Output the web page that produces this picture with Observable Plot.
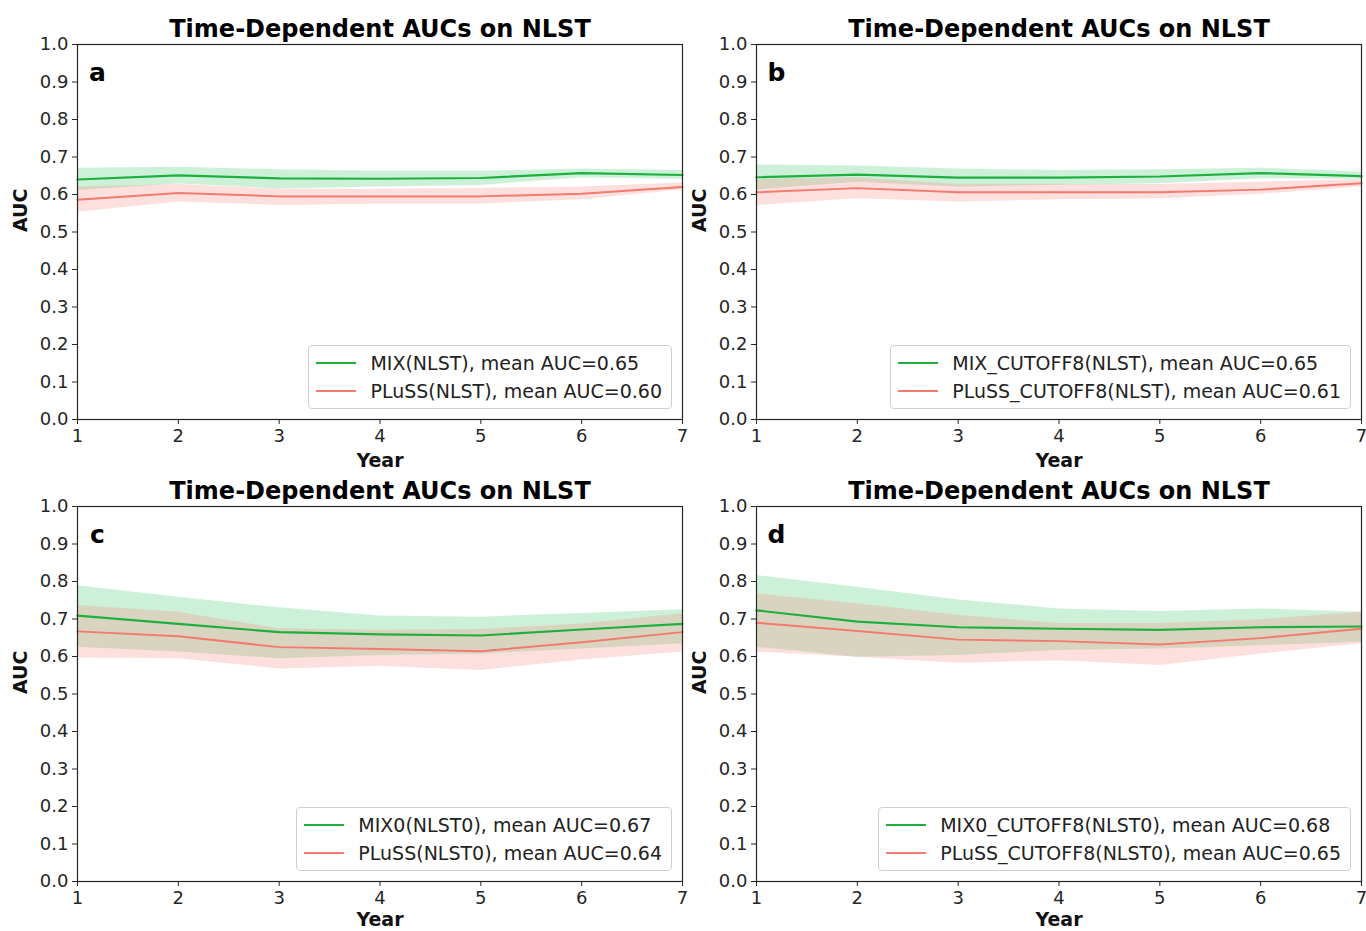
<!DOCTYPE html>
<html>
<head>
<meta charset="utf-8">
<script src="https://cdn.jsdelivr.net/npm/d3@7"></script>
<script src="https://cdn.jsdelivr.net/npm/@observablehq/plot@0.6"></script>
<style>
  html, body { margin: 0; padding: 0; background: #fff; }
  #root { position: relative; width: 1366px; height: 931px; overflow: hidden; font-family: "DejaVu Sans", sans-serif; }
  .panel { position: absolute; }
  .panel svg { overflow: visible; }
  .legend { position: absolute; border: 1px solid #d0d0d0; border-radius: 4px; background: rgba(255,255,255,0.85);
            padding: 3px 9px 3px 7px; font-family: "DejaVu Sans", sans-serif; font-size: 19px; color: #222; }
  .legend .row { display: flex; align-items: center; height: 28px; white-space: nowrap; }
  .legend .sw { width: 40px; height: 2px; margin-right: 14px; }
</style>
</head>
<body>
<div id="root"></div>
<script>
// ---------------- data ----------------
const years = [1, 2, 3, 4, 5, 6, 7];
const yTicks = [0, 0.1, 0.2, 0.3, 0.4, 0.5, 0.6, 0.7, 0.8, 0.9, 1.0];
const titleText = "Time-Dependent AUCs on NLST";

// panel a
const aMix      = [0.640, 0.651, 0.643, 0.642, 0.644, 0.657, 0.652];
const aMixLo    = [0.611, 0.628, 0.615, 0.620, 0.624, 0.645, 0.641];
const aMixHi    = [0.670, 0.673, 0.666, 0.662, 0.662, 0.668, 0.664];
const aPluss    = [0.586, 0.604, 0.595, 0.595, 0.595, 0.602, 0.620];
const aPlussLo  = [0.553, 0.580, 0.571, 0.575, 0.575, 0.586, 0.613];
const aPlussHi  = [0.620, 0.627, 0.614, 0.614, 0.616, 0.620, 0.631];
// panel b
const bMix      = [0.646, 0.653, 0.645, 0.645, 0.648, 0.657, 0.649];
const bMixLo    = [0.612, 0.633, 0.620, 0.625, 0.629, 0.642, 0.640];
const bMixHi    = [0.679, 0.676, 0.668, 0.664, 0.666, 0.670, 0.660];
const bPluss    = [0.606, 0.617, 0.606, 0.606, 0.606, 0.613, 0.630];
const bPlussLo  = [0.571, 0.589, 0.580, 0.586, 0.589, 0.601, 0.620];
const bPlussHi  = [0.640, 0.645, 0.627, 0.627, 0.627, 0.633, 0.640];
// panel c
const cMix      = [0.709, 0.687, 0.665, 0.659, 0.656, 0.672, 0.687];
const cMixLo    = [0.625, 0.612, 0.594, 0.603, 0.607, 0.620, 0.634];
const cMixHi    = [0.789, 0.758, 0.730, 0.708, 0.705, 0.715, 0.725];
const cPluss    = [0.667, 0.654, 0.625, 0.620, 0.614, 0.638, 0.665];
const cPlussLo  = [0.596, 0.594, 0.567, 0.574, 0.563, 0.591, 0.612];
const cPlussHi  = [0.736, 0.718, 0.674, 0.670, 0.672, 0.687, 0.714];
// panel d
const dMix      = [0.723, 0.693, 0.678, 0.674, 0.671, 0.678, 0.680];
const dMixLo    = [0.625, 0.598, 0.603, 0.616, 0.620, 0.629, 0.638];
const dMixHi    = [0.816, 0.785, 0.751, 0.727, 0.720, 0.727, 0.718];
const dPluss    = [0.690, 0.668, 0.645, 0.641, 0.632, 0.649, 0.674];
const dPlussLo  = [0.612, 0.598, 0.582, 0.589, 0.576, 0.607, 0.634];
const dPlussHi  = [0.767, 0.741, 0.710, 0.688, 0.688, 0.698, 0.718];

const labelsA = ["MIX(NLST), mean AUC=0.65", "PLuSS(NLST), mean AUC=0.60"];
const labelsB = ["MIX_CUTOFF8(NLST), mean AUC=0.65", "PLuSS_CUTOFF8(NLST), mean AUC=0.61"];
const labelsC = ["MIX0(NLST0), mean AUC=0.67", "PLuSS(NLST0), mean AUC=0.64"];
const labelsD = ["MIX0_CUTOFF8(NLST0), mean AUC=0.68", "PLuSS_CUTOFF8(NLST0), mean AUC=0.65"];
const panelLetters = ["a", "b", "c", "d"];

// ---------------- styling ----------------
const GREEN = "#1db03e";
const RED = "#f47a6e";
const GREEN_FILL = "#2cc45a";
const RED_FILL = "#f8837a";
const AXIS = "#262626";

const panels = [
  {letter: panelLetters[0], mix: aMix, mixLo: aMixLo, mixHi: aMixHi, pl: aPluss, plLo: aPlussLo, plHi: aPlussHi, labels: labelsA,
   left: 0, top: 0, width: 686, height: 470, mL: 77, mR: 4, mT: 44, mB: 51, yearDy: 47},
  {letter: panelLetters[1], mix: bMix, mixLo: bMixLo, mixHi: bMixHi, pl: bPluss, plLo: bPlussLo, plHi: bPlussHi, labels: labelsB,
   left: 686, top: 0, width: 680, height: 470, mL: 70, mR: 5, mT: 44, mB: 51, yearDy: 47},
  {letter: panelLetters[2], mix: cMix, mixLo: cMixLo, mixHi: cMixHi, pl: cPluss, plLo: cPlussLo, plHi: cPlussHi, labels: labelsC,
   left: 0, top: 470, width: 686, height: 461, mL: 77, mR: 4, mT: 36, mB: 50, yearDy: 44},
  {letter: panelLetters[3], mix: dMix, mixLo: dMixLo, mixHi: dMixHi, pl: dPluss, plLo: dPlussLo, plHi: dPlussHi, labels: labelsD,
   left: 686, top: 470, width: 680, height: 461, mL: 70, mR: 5, mT: 36, mB: 50, yearDy: 44}
];

const root = document.getElementById("root");

for (const p of panels) {
  const rows = years.map((yr, i) => ({
    year: yr, mix: p.mix[i], mixLo: p.mixLo[i], mixHi: p.mixHi[i],
    pl: p.pl[i], plLo: p.plLo[i], plHi: p.plHi[i]
  }));

  const chart = Plot.plot({
    width: p.width,
    height: p.height,
    marginLeft: p.mL,
    marginRight: p.mR,
    marginTop: p.mT,
    marginBottom: p.mB,
    style: {fontFamily: "DejaVu Sans", fontSize: "18px", color: AXIS, background: "transparent", overflow: "visible"},
    x: {domain: [1, 7]},
    y: {domain: [0, 1]},
    marks: [
      Plot.areaY(rows, {x: "year", y1: "mixLo", y2: "mixHi", fill: GREEN_FILL, fillOpacity: 0.24}),
      Plot.areaY(rows, {x: "year", y1: "plLo", y2: "plHi", fill: RED_FILL, fillOpacity: 0.26}),
      Plot.lineY(rows, {x: "year", y: "mix", stroke: GREEN, strokeWidth: 2.2}),
      Plot.lineY(rows, {x: "year", y: "pl", stroke: RED, strokeWidth: 2}),
      Plot.frame({stroke: AXIS, strokeWidth: 1.2}),
      Plot.axisX({ticks: years, tickFormat: d => String(d), tickSize: 5, tickPadding: 5, label: null, fontSize: 18, stroke: AXIS}),
      Plot.axisY({ticks: yTicks, tickFormat: d => d.toFixed(1), tickSize: 5, tickPadding: 4, label: null, fontSize: 18, stroke: AXIS}),
      Plot.text([titleText], {frameAnchor: "top", dy: -8, lineAnchor: "bottom", fontSize: 24, fontWeight: "bold", fill: "#000"}),
      Plot.text([p.letter], {frameAnchor: "top-left", dx: 20, dy: 36, lineAnchor: "bottom", textAnchor: "middle", fontSize: 25, fontWeight: "bold", fill: "#000"}),
      Plot.text(["Year"], {frameAnchor: "bottom", dy: p.yearDy, lineAnchor: "bottom", fontSize: 19, fontWeight: "bold", fill: "#111"}),
      Plot.text(["AUC"], {frameAnchor: "left", dx: -57, rotate: -90, lineAnchor: "middle", fontSize: 19, fontWeight: "bold", fill: "#111"})
    ]
  });

  const div = document.createElement("div");
  div.className = "panel";
  div.style.left = p.left + "px";
  div.style.top = p.top + "px";
  div.style.width = p.width + "px";
  div.style.height = p.height + "px";
  div.appendChild(chart);

  // legend (bottom-right of the plot frame)
  const leg = document.createElement("div");
  leg.className = "legend";
  leg.style.right = (p.mR + 10) + "px";
  leg.style.bottom = (p.mB + 10) + "px";
  [[GREEN, p.labels[0]], [RED, p.labels[1]]].forEach(([c, t]) => {
    const r = document.createElement("div");
    r.className = "row";
    const sw = document.createElement("span");
    sw.className = "sw";
    sw.style.background = c;
    const tx = document.createElement("span");
    tx.textContent = t;
    r.appendChild(sw); r.appendChild(tx);
    leg.appendChild(r);
  });
  div.appendChild(leg);
  root.appendChild(div);
}
</script>
</body>
</html>
